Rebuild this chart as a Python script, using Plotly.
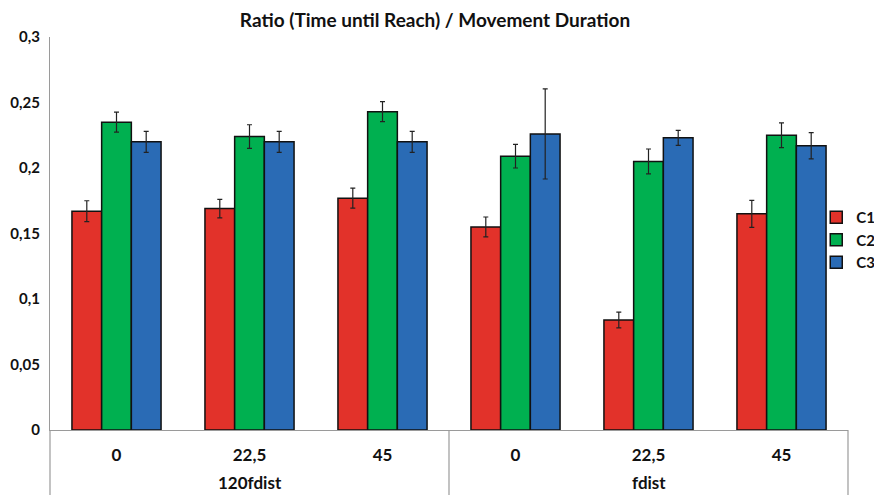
import plotly.graph_objects as go

groups = ["120fdist"] * 3 + ["fdist"] * 3
angles = ["0", "22,5", "45", "0", "22,5", "45"]

c1 = [0.167, 0.169, 0.177, 0.155, 0.084, 0.165]
c1_err = [0.008, 0.007, 0.0076, 0.0076, 0.006, 0.0103]
c2 = [0.235, 0.224, 0.243, 0.209, 0.205, 0.225]
c2_err = [0.0076, 0.009, 0.0076, 0.009, 0.0095, 0.0095]
c3 = [0.220, 0.220, 0.220, 0.226, 0.223, 0.217]
c3_err = [0.008, 0.008, 0.008, 0.0344, 0.0057, 0.010]

series = [("C1", c1, c1_err, "#E2322A"), ("C2", c2, c2_err, "#00B050"), ("C3", c3, c3_err, "#2A6BB5")]

ytick_vals = [0, 0.05, 0.1, 0.15, 0.2, 0.25, 0.3]
ytick_text = ["0", "0,05", "0,1", "0,15", "0,2", "0,25", "0,3"]

FONT = "Lato"
W, H = 874, 487  # page body has an 8px margin
LINE = "#9a9a9a"
keys = [f"{g}|{a}" for g, a in zip(groups, angles)]

fig = go.Figure()
for name, vals, errs, col in series:
    fig.add_trace(go.Bar(
        name=name, x=keys, y=vals,
        marker=dict(color=col, line=dict(color="#111111", width=1.5)),
        error_y=dict(type="data", array=errs, visible=True, color="#222222", thickness=1.2, width=2.5),
    ))

# group dividers and group labels
n = len(keys)
group_names = list(dict.fromkeys(groups))
bounds = [0]
for g in group_names:
    bounds.append(bounds[-1] + groups.count(g))
plot_h = H - 29 - 65
bottom = -65 / plot_h
for b in bounds:
    fig.add_shape(type="line", xref="paper", yref="paper", x0=b / n, x1=b / n, y0=0, y1=bottom,
                  line=dict(color=LINE, width=1.2))
for i, g in enumerate(group_names):
    fig.add_annotation(text=g, xref="paper", yref="paper", x=(bounds[i] + bounds[i + 1]) / 2 / n,
                       y=-52 / plot_h, xanchor="center", yanchor="middle", showarrow=False,
                       font=dict(family=FONT, size=17, color="#111111", weight=700))

fig.update_layout(
    width=W, height=H,
    barmode="group", bargap=0.33, bargroupgap=0,
    plot_bgcolor="white", paper_bgcolor="white",
    margin=dict(l=42, r=34, t=29, b=65, autoexpand=False),
    title=dict(text="Ratio (Time until Reach) / Movement Duration", x=427 / W, xanchor="center",
               xref="container", yref="container",
               y=1 - 12 / H, yanchor="middle",
               font=dict(family=FONT, size=19, color="#111111", weight=700)),
    font=dict(family=FONT, size=15, color="#111111", weight=700),
    legend=dict(x=0.998, xanchor="right", xref="container", y=1 - 232 / H, yanchor="middle", yref="container",
                font=dict(family=FONT, size=15, color="#111111", weight=700),
                bgcolor="rgba(0,0,0,0)", tracegroupgap=0, itemwidth=30),
    showlegend=True,
)
fig.update_yaxes(range=[0, 0.3], tickvals=ytick_vals, ticktext=ytick_text, automargin=False,
                 showgrid=False, zeroline=False, showline=True, linecolor=LINE, linewidth=1.2,
                 ticks="", ticklabelstandoff=6,
                 tickfont=dict(family=FONT, size=15, color="#111111", weight=700))
fig.update_xaxes(type="category", tickvals=keys, ticktext=angles,
                 showline=True, linecolor=LINE, linewidth=1.2, automargin=False,
                 showgrid=False, ticks="", ticklabelstandoff=9,
                 tickfont=dict(family=FONT, size=17, color="#111111", weight=700))

fig.write_html("out.html")
